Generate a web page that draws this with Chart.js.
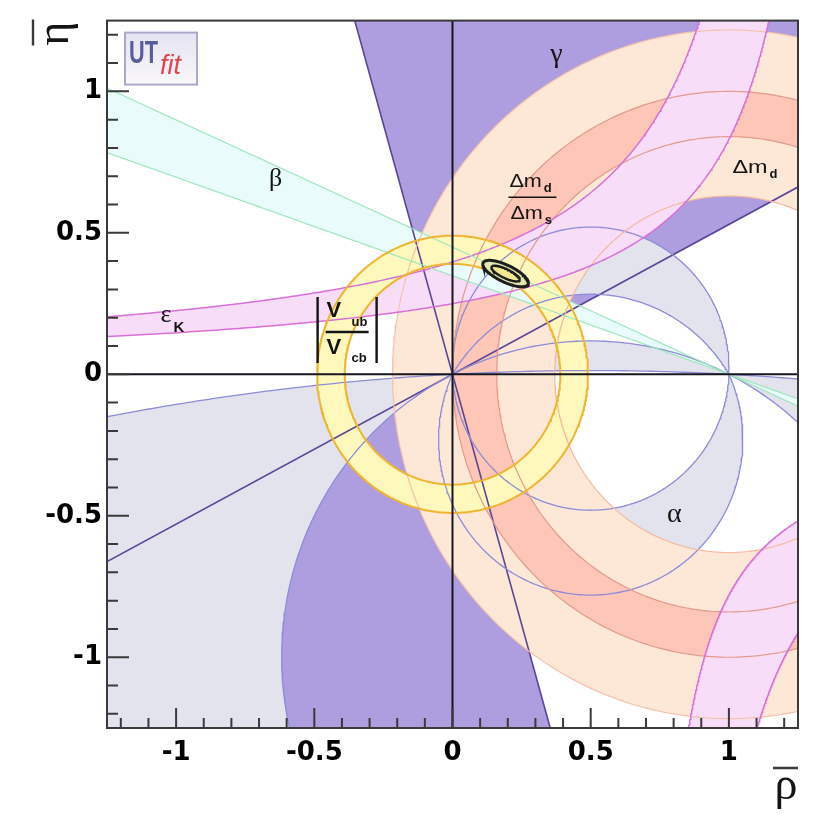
<!DOCTYPE html>
<html>
<head>
<meta charset="utf-8">
<title>UTfit rho-eta plane</title>
<script src="https://cdn.jsdelivr.net/npm/chart.js@4.4.1/dist/chart.umd.min.js"></script>
<style>
  html, body { margin: 0; padding: 0; background: #fff; }
  canvas { display: block; }
</style>
</head>
<body>
<canvas id="utPlot" width="818" height="818"></canvas>
<script>
// axis ticks
const majorTicks = [-1, -0.5, 0, 0.5, 1];
const minorTicks = [-1.2, -1.1, -0.9, -0.8, -0.7, -0.6, -0.4, -0.3, -0.2, -0.1,
                    0.1, 0.2, 0.3, 0.4, 0.6, 0.7, 0.8, 0.9, 1.1, 1.2];

// gamma: wedge edges through (0,0), degrees from the rho axis
const gammaAngles = [27.9, 105.8];
// alpha: constant-alpha circles through (0,0) and (1,0), centre at (0.5, c)
//                    A     B      C/F   D      G
const alphaCentres = [0.02, -0.30, -1.0, -0.23, -9.45];
// mixing bands, circles round (1,0)
const dmdRadii = [0.63, 1.217];
const dmsRadii = [0.84, 1.0];
// |Vub/Vcb| ring round (0,0)
const vubRadii = [0.39, 0.49];
// sin2beta: two lines through (1,0), degrees
const betaAngles = [19.2, 24.2];
// epsilon_K: eta = k / (a - rho), [a, k]
const epsUpper = [1.31, 0.52];
const epsLower = [1.43, 0.357];
// second epsilon_K band (lower right): eta = b - k / (rho - a), [a, k, b]
const epsMirrorIn = [0.665, 0.205, -0.168];
const epsMirrorOut = [0.774, 0.355, -0.168];
// global fit: centre, semi axes (95%, 68%), tilt in degrees
const fitCentre = [0.192, 0.356];
const fitAxes95 = [0.09, 0.03];
const fitAxes68 = [0.056, 0.016];
const fitTilt = -25;

const rad = d => d * Math.PI / 180;

function arc(cx, cy, r, a0, a1, n) {
  const pts = [];
  for (let i = 0; i <= n; i++) {
    const a = a0 + (a1 - a0) * i / n;
    pts.push({x: cx + r * Math.cos(a), y: cy + r * Math.sin(a)});
  }
  return pts;
}
function ring(cx, cy, r0, r1) {
  return arc(cx, cy, r1, Math.PI, 3 * Math.PI, 360).concat(arc(cx, cy, r0, 3 * Math.PI, Math.PI, 360));
}
function alphaCircle(c) {
  return {cx: 0.5, cy: c, r: Math.hypot(0.5, c), a0: Math.atan2(-c, 0.5)};
}
function upperArc(c) {
  const k = alphaCircle(c);
  return arc(k.cx, k.cy, k.r, k.a0, Math.PI - k.a0, 240);
}
function lowerArc(c) {
  const k = alphaCircle(c);
  return arc(k.cx, k.cy, k.r, k.a0, -Math.PI - k.a0, 240);
}
function fullCircle(c) {
  const k = alphaCircle(c);
  return arc(k.cx, k.cy, k.r, 0, 2 * Math.PI, k.r > 3 ? 3000 : 400);
}
function ray(px, py, deg, len) {
  const c = Math.cos(rad(deg)), s = Math.sin(rad(deg));
  return {x: px + len * c, y: py + len * s};
}
function hyper(p, etaEnd, reverse) {
  // eta = k/(a-rho), from rho=-1.6 up to where eta = etaEnd
  const [a, k] = p;
  const d0 = a + 1.6, d1 = k / etaEnd, pts = [];
  for (let i = 0; i <= 400; i++) {
    const d = d0 * Math.pow(d1 / d0, i / 400);
    pts.push({x: a - d, y: k / d});
  }
  return reverse ? pts.reverse() : pts;
}
function hyperLow(p, reverse) {
  // eta = b - k/(rho-a), from eta=-1.6 to rho=1.6
  const [a, k, b] = p;
  const d0 = k / (b + 1.6), d1 = 1.6 - a, pts = [];
  for (let i = 0; i <= 400; i++) {
    const d = d0 * Math.pow(d1 / d0, i / 400);
    pts.push({x: a + d, y: b - k / d});
  }
  return reverse ? pts.reverse() : pts;
}
function ellipse(c, ax, tilt) {
  const pts = [], ct = Math.cos(rad(tilt)), st = Math.sin(rad(tilt));
  for (let i = 0; i <= 120; i++) {
    const t = 2 * Math.PI * i / 120;
    const u = ax[0] * Math.cos(t), v = ax[1] * Math.sin(t);
    pts.push({x: c[0] + u * ct - v * st, y: c[1] + u * st + v * ct});
  }
  return pts;
}

function area(points, color) {
  return {data: points, showLine: true, fill: 'shape', backgroundColor: color,
          borderColor: 'rgba(0,0,0,0)', borderWidth: 0, pointRadius: 0};
}
function curve(points, color, width) {
  return {data: points, showLine: true, fill: false, borderColor: color,
          borderWidth: width, pointRadius: 0};
}

const [cA, cB, cC, cD, cG] = alphaCentres;
const G = alphaCircle(cG), F = alphaCircle(cC);

// shapes
const gammaShape = [{x: 0, y: 0}, ray(0, 0, gammaAngles[0], 5), ray(0, 0, gammaAngles[1], 5), {x: 0, y: 0},
                    ray(0, 0, gammaAngles[0] + 180, 5), ray(0, 0, gammaAngles[1] + 180, 5), {x: 0, y: 0}];
const alphaUp1 = upperArc(cA).concat(upperArc(cB).reverse());
const alphaUp2 = upperArc(cC).concat(upperArc(cG).reverse());
const alphaLow1 = lowerArc(cD).concat(lowerArc(cA).reverse());
const alphaLow2 = [].concat(
  arc(G.cx, G.cy, G.r, Math.PI - G.a0, Math.PI - G.a0 + rad(16), 300),
  [{x: -3, y: -3}, {x: 3.6, y: -3}],
  arc(G.cx, G.cy, G.r, G.a0 - rad(16), G.a0, 300),
  arc(F.cx, F.cy, F.r, F.a0, -Math.PI - F.a0, 400)
);
const t1 = Math.tan(rad(betaAngles[0])), t2 = Math.tan(rad(betaAngles[1]));
const betaShape = [{x: 1, y: 0}, {x: -3, y: 4 * t1}, {x: -3, y: 4 * t2}, {x: 1, y: 0},
                   {x: 5, y: -4 * t2}, {x: 5, y: -4 * t1}, {x: 1, y: 0}];
const epsShape = hyper(epsUpper, 1.6).concat(hyper(epsLower, 1.6, true));
const epsShape2 = hyperLow(epsMirrorIn).concat(hyperLow(epsMirrorOut, true));

const layers = [
  area(gammaShape, '#ae9ddf'),
  area(alphaUp1, '#e2e3ec'),
  area(alphaUp2, '#e2e3ec'),
  area(alphaLow1, '#e2e3ec'),
  area(alphaLow2, '#e2e3ec'),
  area(ring(1, 0, dmdRadii[0], dmdRadii[1]), '#fde8d8'),
  area(ring(1, 0, dmsRadii[0], dmsRadii[1]), '#fec6b6'),
  area(epsShape, '#f8ddf8'),
  area(epsShape2, '#f8ddf8'),
  area(betaShape, '#e9fcfb'),
  area(ring(0, 0, vubRadii[0], vubRadii[1]), '#fff8bd'),
  // boundary lines
  curve([ray(0, 0, gammaAngles[0], -5), ray(0, 0, gammaAngles[0], 5)], '#5a4698', 1.6),
  curve([ray(0, 0, gammaAngles[1], -5), ray(0, 0, gammaAngles[1], 5)], '#5a4698', 1.6),
  curve(fullCircle(cA), '#8c8cd8', 1.3),
  curve(upperArc(cB), '#8c8cd8', 1.3),
  curve(fullCircle(cC), '#8c8cd8', 1.3),
  curve(lowerArc(cD), '#8c8cd8', 1.3),
  curve(fullCircle(cG), '#8c8cd8', 1.3),
  curve(arc(1, 0, dmdRadii[0], 0, 2 * Math.PI, 400), '#f3b9a0', 1.2),
  curve(arc(1, 0, dmdRadii[1], 0, 2 * Math.PI, 400), '#f3c2aa', 1.2),
  curve(arc(1, 0, dmsRadii[0], 0, 2 * Math.PI, 400), '#e39a8c', 1.2),
  curve(arc(1, 0, dmsRadii[1], 0, 2 * Math.PI, 400), '#e39a8c', 1.2),
  curve(hyper(epsUpper, 1.6), '#d870d8', 1.5),
  curve(hyper(epsLower, 1.6), '#d870d8', 1.5),
  curve(hyperLow(epsMirrorIn), '#d870d8', 1.5),
  curve(hyperLow(epsMirrorOut), '#d870d8', 1.5),
  curve([{x: -3, y: 4 * t1}, {x: 5, y: -4 * t1}], '#9ce6bd', 1.2),
  curve([{x: -3, y: 4 * t2}, {x: 5, y: -4 * t2}], '#9ce6bd', 1.2),
  curve(arc(0, 0, vubRadii[0], 0, 2 * Math.PI, 360), '#f0b430', 2),
  curve(arc(0, 0, vubRadii[1], 0, 2 * Math.PI, 360), '#f0b430', 2),
  // fit contours
  Object.assign(area(ellipse(fitCentre, fitAxes95, fitTilt), '#e3e8b0'), {borderColor: '#1e1e1e', borderWidth: 3}),
  Object.assign(area(ellipse(fitCentre, fitAxes68, fitTilt), '#f0e892'), {borderColor: '#1e1e1e', borderWidth: 2.4})
];
layers.forEach((d, i) => { d.order = layers.length - i; });

// draws text, returns the x just after it
function label(ctx, str, x, y, font, align, sx, color) {
  ctx.save();
  ctx.font = font;
  ctx.fillStyle = color || '#141414';
  ctx.textAlign = align || 'left';
  ctx.textBaseline = 'alphabetic';
  const w = ctx.measureText(str).width * (sx || 1);
  ctx.translate(x, y);
  ctx.scale(sx || 1, 1);
  ctx.fillText(str, 0, 0);
  ctx.restore();
  return x + w;
}

const overlay = {
  id: 'overlay',
  afterDatasetsDraw(chart) {
    const {ctx, chartArea: a, scales: {x, y}} = chart;
    const P = (r, e) => [x.getPixelForValue(r), y.getPixelForValue(e)];
    ctx.save();

    // axes through the origin
    const [x0, y0] = P(0, 0);
    ctx.strokeStyle = '#16161e';
    ctx.lineWidth = 2;
    ctx.beginPath();
    ctx.moveTo(x0, a.top); ctx.lineTo(x0, a.bottom);
    ctx.moveTo(a.left, y0); ctx.lineTo(a.right, y0);
    ctx.stroke();

    // constraint names
    const serif = '"Liberation Serif", serif';
    const sans = '"Liberation Sans", sans-serif';
    let p = P(0.376, 1.105); label(ctx, 'γ', p[0], p[1], '28px ' + serif, 'center');
    p = P(-0.640, 0.664); label(ctx, 'β', p[0], p[1], '26px ' + serif, 'center');
    p = P(0.803, -0.521); label(ctx, 'α', p[0], p[1], '28px ' + serif, 'center');
    p = P(-1.056, 0.185);
    let e = label(ctx, 'ε', p[0], p[1], '26px ' + serif);
    label(ctx, 'K', e + 2, p[1] + 10, 'bold 15px ' + sans);

    p = P(1.013, 0.713);
    e = label(ctx, 'Δm', p[0], p[1], '18px ' + sans, 'left', 1.3);
    label(ctx, 'd', e + 2, p[1] + 5, 'bold 13px ' + sans);

    p = P(0.206, 0.661);
    e = label(ctx, 'Δm', p[0], p[1], '18px ' + sans, 'left', 1.2);
    label(ctx, 'd', e + 2, p[1] + 5, 'bold 13px ' + sans);
    ctx.strokeStyle = '#141414'; ctx.lineWidth = 1.6;
    ctx.beginPath(); ctx.moveTo(p[0] - 1, p[1] + 10); ctx.lineTo(p[0] + 47, p[1] + 10); ctx.stroke();
    e = label(ctx, 'Δm', p[0] + 1, p[1] + 32, '18px ' + sans, 'left', 1.2);
    label(ctx, 's', e + 2, p[1] + 37, 'bold 13px ' + sans);

    p = P(-0.488, 0.273);
    ctx.lineWidth = 2.4;
    ctx.beginPath();
    ctx.moveTo(p[0], p[1]); ctx.lineTo(p[0], p[1] + 66);
    ctx.moveTo(p[0] + 59, p[1]); ctx.lineTo(p[0] + 59, p[1] + 66);
    ctx.moveTo(p[0] + 8, p[1] + 35); ctx.lineTo(p[0] + 51, p[1] + 35);
    ctx.stroke();
    label(ctx, 'V', p[0] + 9, p[1] + 20, 'bold 22px ' + sans);
    label(ctx, 'ub', p[0] + 34, p[1] + 29, 'bold 13px ' + sans);
    label(ctx, 'V', p[0] + 9, p[1] + 57, 'bold 22px ' + sans);
    label(ctx, 'cb', p[0] + 34, p[1] + 65, 'bold 13px ' + sans);

    // logo
    const lx = a.left + 18, ly = a.top + 12;
    const g = ctx.createLinearGradient(lx, ly, lx, ly + 52);
    g.addColorStop(0, '#e4e4f2'); g.addColorStop(1, '#fbf8fb');
    ctx.fillStyle = g;
    ctx.fillRect(lx, ly, 72, 52);
    ctx.strokeStyle = '#aaaacd'; ctx.lineWidth = 2;
    ctx.strokeRect(lx, ly, 72, 52);
    label(ctx, 'UT', lx + 4, ly + 30, 'bold 31px ' + sans, 'left', 0.7, '#575ca0');
    label(ctx, 'fit', lx + 35, ly + 41, 'italic 27px ' + sans, 'left', 1, '#e0444f');

    // frame
    ctx.strokeStyle = '#3a3a3a'; ctx.lineWidth = 2;
    ctx.strokeRect(a.left, a.top, a.right - a.left, a.bottom - a.top);

    // inward ticks
    ctx.beginPath();
    majorTicks.forEach(v => {
      const ty = y.getPixelForValue(v), tx = x.getPixelForValue(v);
      ctx.moveTo(a.left, ty); ctx.lineTo(a.left + 22, ty);
      ctx.moveTo(tx, a.bottom); ctx.lineTo(tx, a.bottom - 20);
    });
    minorTicks.forEach(v => {
      const ty = y.getPixelForValue(v), tx = x.getPixelForValue(v);
      ctx.moveTo(a.left, ty); ctx.lineTo(a.left + 11, ty);
      ctx.moveTo(tx, a.bottom); ctx.lineTo(tx, a.bottom - 10);
    });
    ctx.stroke();

    // axis titles with bars
    ctx.fillStyle = '#141414';
    ctx.save();
    ctx.translate(a.left - 39, a.top + 13);
    ctx.rotate(-Math.PI / 2);
    ctx.font = '46px ' + serif;
    ctx.textAlign = 'center';
    ctx.fillText('η', 0, 0);
    ctx.restore();
    ctx.lineWidth = 2.4;
    ctx.beginPath();
    ctx.moveTo(a.left - 74, a.top - 1); ctx.lineTo(a.left - 74, a.top + 25);
    ctx.moveTo(a.right - 25, a.bottom + 40); ctx.lineTo(a.right, a.bottom + 40);
    ctx.stroke();
    label(ctx, 'ρ', a.right - 12, a.bottom + 71, '46px ' + serif, 'center');

    ctx.restore();
  }
};

const tickFont = {family: '"DejaVu Sans", sans-serif', weight: 'bold', size: 26};

new Chart(document.getElementById('utPlot'), {
  type: 'scatter',
  data: {datasets: layers},
  options: {
    responsive: false,
    animation: false,
    events: [],
    layout: {padding: {top: 13, right: 20, left: 0, bottom: 0}},
    plugins: {legend: {display: false}, tooltip: {enabled: false}},
    scales: {
      x: {
        type: 'linear', min: -1.25, max: 1.25,
        afterBuildTicks: s => { s.ticks = majorTicks.map(v => ({value: v})); },
        afterFit: s => { s.height = 90; },
        grid: {display: false, drawTicks: false},
        border: {display: false},
        ticks: {padding: 10, color: '#000', font: tickFont, autoSkip: false, maxRotation: 0,
                callback: v => String(v)}
      },
      y: {
        type: 'linear', min: -1.25, max: 1.25,
        afterBuildTicks: s => { s.ticks = majorTicks.map(v => ({value: v})); },
        afterFit: s => { s.width = 107; },
        grid: {display: false, drawTicks: false},
        border: {display: false},
        ticks: {padding: 5, color: '#000', font: tickFont, autoSkip: false,
                callback: v => String(v)}
      }
    }
  },
  plugins: [overlay]
});
</script>
</body>
</html>
